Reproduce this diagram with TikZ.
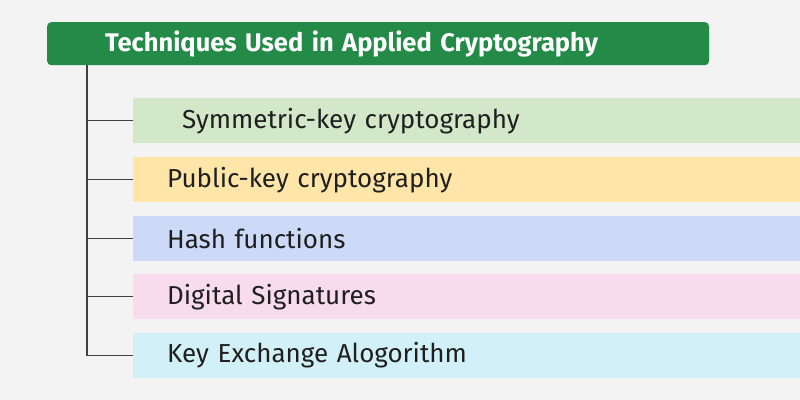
\documentclass[tikz,border=0pt]{standalone}
\usepackage{fontspec}
\setmainfont{Fira Sans}
\definecolor{pagegray}{HTML}{F3F3F3}
\definecolor{titlegreen}{HTML}{238B47}
\definecolor{symgreen}{HTML}{D3E8C9}
\definecolor{pubyellow}{HTML}{FFE5A8}
\definecolor{hashblue}{HTML}{CCDAF8}
\definecolor{signpink}{HTML}{F8DCEE}
\definecolor{keycyan}{HTML}{D2F0F7}
\definecolor{inkgray}{HTML}{1F1F1F}

\begin{document}
\begin{tikzpicture}[x = 1pt, y = -1pt,
    every node/.style = {anchor = north west, inner ysep = 0pt, align = left},
    topic/.style = {minimum width = 667pt, minimum height = 45pt, text width = 667pt - 2*34pt,
        inner xsep = 34pt, font = \fontsize{26}{30}\selectfont, text = inkgray},
    branch/.style = {draw = inkgray!85, line width = 1.2pt}]
    \fill[pagegray] (0,0) rectangle (800,400);
    % heading
    \node[fill = titlegreen, rounded corners = 4pt, minimum width = 662pt, minimum height = 43pt,
        text width = 662pt - 2*58pt, inner xsep = 58pt, text = white,
        font = \fontsize{25.5}{29}\selectfont\bfseries] (title) at (47,22)
        {Techniques Used in Applied Cryptography};
    % topics
    \node[topic, fill = symgreen, text width = 667pt - 2*49pt, inner xsep = 49pt] (sym) at (133,98)
        {Symmetric-key cryptography};
    \node[topic, fill = pubyellow] (pub) at (133,157) {Public-key cryptography};
    \node[topic, fill = hashblue] (hash) at (133,216) {Hash functions};
    \node[topic, fill = signpink] (sign) at (133,274) {Digital Signatures};
    \node[topic, fill = keycyan] (keyx) at (133,333) {Key Exchange Alogorithm};
    % connectors
    \coordinate (trunk) at (87,65);
    \draw[branch] (trunk) |- (keyx.west);
    \foreach \leaf in {sym, pub, hash, sign}
        \draw[branch] (trunk |- \leaf.west) -- (\leaf.west);
\end{tikzpicture}
\end{document}
